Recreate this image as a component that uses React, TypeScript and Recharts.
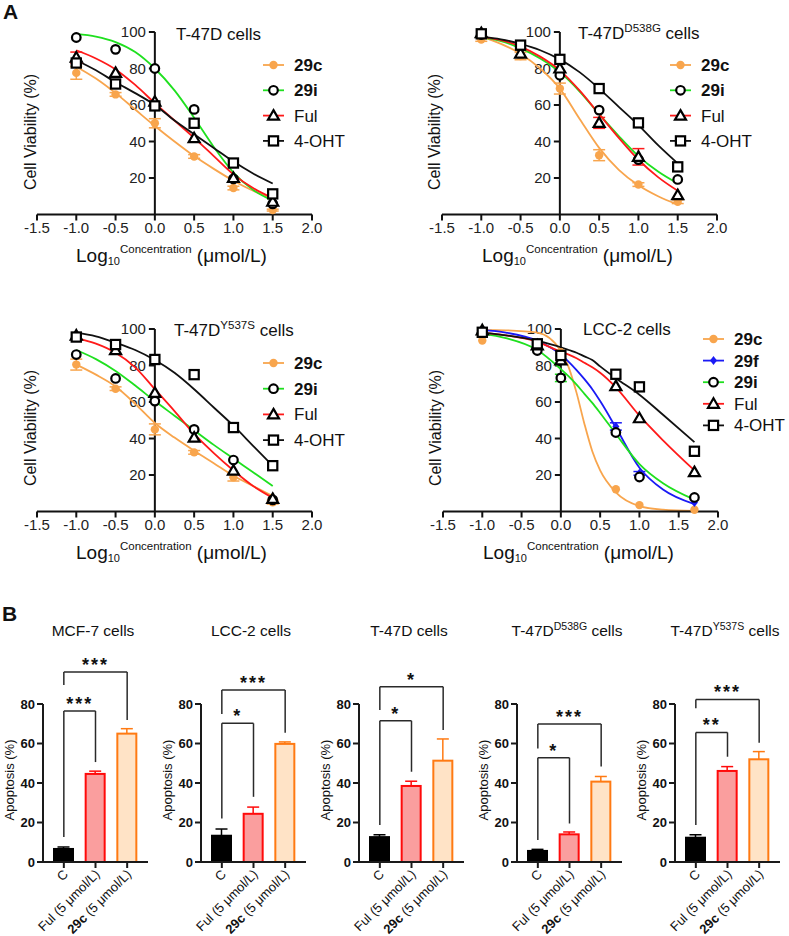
import React from "react"
import { Bar, ComposedChart, ErrorBar, Line, ReferenceLine, Scatter, XAxis, YAxis } from "recharts"

const FONT = "Arial, 'Liberation Sans', Helvetica, sans-serif"

// ---------- A: dose-response ----------
const doseX = [-1, -0.5, 0, 0.5, 1, 1.5]
const lccX = [-1, -0.3, 0, 0.7, 1, 1.7]
const fitX = [-1, -0.75, -0.5, -0.25, 0, 0.25, 0.5, 0.75, 1, 1.25, 1.5]
const lccFitX = [-1, -0.7, -0.3, 0, 0.1, 0.2, 0.3, 0.4, 0.5, 0.7, 1, 1.3, 1.7]
const doseXTicks = [-1.5, -1, -0.5, 0, 0.5, 1, 1.5, 2]
const viabilityTicks = [20, 40, 60, 80, 100]

// T-47D
const t47d29c = [77.6, 65.8, 50, 31.8, 14.5, 2.4]
const t47d29cErr = [3.5, 1, 2.5, 1, 1, 0.5]
const t47d29i = [97, 90.5, 80, 57.6, 19.5, 5.8]
const t47dFul = [86, 77.6, 61.8, 41.8, 20, 7]
const t47dFulErr = [3, 0, 0, 0, 0, 0]
const t47dOht = [83, 71.5, 59.5, 50, 28.2, 11.3]
const t47dFit29c = [81, 74.5, 66.5, 57.5, 48.5, 40, 32, 25, 18.5, 13, 8.5]
const t47dFit29i = [99, 97.5, 94.5, 89, 80, 68, 53, 37, 23, 13.5, 7.5]
const t47dFitFul = [90, 85.5, 79.5, 71, 61, 51.5, 42, 32, 22, 14.5, 9]
const t47dFitOht = [84.5, 79, 72.5, 66.5, 60, 51.5, 44, 36.5, 29, 22.5, 17]

// T-47D D538G
const d538g29c = [95.9, 86.8, 69, 32.5, 16.4, 7]
const d538g29cErr = [1, 2, 3, 3, 1, 1]
const d538g29i = [98.6, 91.9, 76.3, 57.2, 30.1, 19.2]
const d538gFul = [99.4, 88.2, 80, 50.2, 31.6, 10.6]
const d538gFulErr = [0, 0, 0, 3, 4.5, 0]
const d538gOht = [99, 92.8, 85, 69, 50.2, 26.1]
const d538gFit29c = [97.5, 93.5, 88, 80, 69, 52.5, 36.5, 24.5, 16, 10, 5.5]
const d538gFit29i = [97, 95, 91, 85.5, 78, 67.5, 55, 43, 32, 23.5, 17]
const d538gFitFul = [97.5, 95.5, 92, 86.5, 79, 68, 55, 42, 30, 20.5, 13]
const d538gFitOht = [97.5, 96, 93.5, 90, 85, 78, 69, 59, 49, 38, 28]

// T-47D Y537S
const y537s29c = [80.5, 67.3, 45, 32.4, 18.7, 5.1]
const y537s29cErr = [3, 1, 3, 1, 2, 1]
const y537s29i = [86, 72.9, 60.5, 45, 28.2, 6.4]
const y537sFul = [96.4, 88.4, 65, 40.5, 22.4, 6.9]
const y537sOht = [95.6, 91.5, 83.3, 75, 46, 25.1]
const y537sFit29c = [80.5, 75, 68.5, 59, 48.5, 40.5, 33.3, 26.5, 19.6, 14, 8.5]
const y537sFit29i = [88.5, 83.5, 77, 69, 60.5, 52.5, 44.5, 36.5, 29, 21.5, 14]
const y537sFitFul = [95, 92, 87, 79, 67, 55, 42.5, 32, 22.5, 14, 7.5]
const y537sFitOht = [98, 96, 92.5, 88.5, 83, 76, 67, 57, 47, 36, 25]

// LCC-2
const lcc29c = [93.7, 91.9, 87.3, 12.2, 3.5, 1]
const lcc29f = [99.3, 89, 84.6, 46.6, 20.9, 5]
const lcc29fErr = [0, 0, 0, 2, 1, 0]
const lcc29i = [98.2, 88.2, 73.2, 43.3, 18.9, 7.7]
const lcc29iErr = [0, 0, 2, 0, 0, 0]
const lccFul = [99.3, 91, 82.8, 68.7, 51.1, 21.6]
const lccOht = [98.2, 91.9, 85.5, 75.2, 68.3, 33]
const lccFit29c = [99.5, 99.3, 98, 88, 79, 65, 48, 33, 22.5, 10.5, 3, 1, 0.3]
const lccFit29f = [99.5, 98, 93.5, 86, 82, 77.5, 72.5, 67, 60.5, 46, 24, 12, 4]
const lccFit29i = [97.5, 95, 88.5, 78, 74, 69.5, 64.5, 59.5, 54, 42.5, 26, 15.5, 6.5]
const lccFitFul = [98, 96.5, 93, 87.5, 86, 84, 81.5, 79, 76, 68, 52.5, 39, 22.5]
const lccFitOht = [98, 96.5, 93.5, 90, 88.5, 87, 85, 83, 79.5, 73, 64, 53, 38]

const seriesColor: Record<string, string> = {
  "29c": "#F8A54D",
  "29f": "#1A1AF5",
  "29i": "#1FE01F",
  Ful: "#FF1A1A",
  "4-OHT": "#111111",
}

function Glyph({ name, cx, cy }: { name: string; cx: number; cy: number }) {
  if (name === "29c") return <circle cx={cx} cy={cy} r={4.2} fill={seriesColor["29c"]} />
  if (name === "29f")
    return <path d={`M${cx},${cy - 4.5} L${cx + 3.5},${cy} L${cx},${cy + 4.5} L${cx - 3.5},${cy} Z`} fill={seriesColor["29f"]} />
  if (name === "29i") return <circle cx={cx} cy={cy} r={4.3} fill="#fff" stroke="#000" strokeWidth={2.2} />
  if (name === "Ful")
    return (
      <path
        d={`M${cx},${cy - 5.5} L${cx + 5.5},${cy + 4} L${cx - 5.5},${cy + 4} Z`}
        fill="#fff"
        stroke="#000"
        strokeWidth={2.2}
      />
    )
  return <rect x={cx - 4.6} y={cy - 4.6} width={9.2} height={9.2} fill="#fff" stroke="#000" strokeWidth={2.2} />
}

function YTickLabel(props: any) {
  const vb = props.viewBox || {}
  return (
    <text x={vb.x - 3} y={vb.y + 5} textAnchor="end" fontSize={15} fontFamily={FONT} fill="#222">
      {props.value}
    </text>
  )
}

type DoseSeries = { name: string; y: number[]; fit: number[]; err?: number[] }

function DosePanel({ left, top, width, xs, fitXs, series }: { left: number; top: number; width: number; xs: number[]; fitXs: number[]; series: DoseSeries[] }) {
  const plotW = 275
  const margin = { top: 32, right: width - 37 - plotW, bottom: 35.5, left: 37 }
  // tick mark length on the centred y axis, in x units (6px)
  const tickLen = (6 * 3.5) / plotW
  return (
    <div style={{ position: "absolute", left, top }}>
      <ComposedChart width={width} height={280} margin={margin}>
        <XAxis
          type="number"
          dataKey="x"
          domain={[-1.5, 2]}
          ticks={doseXTicks}
          tickFormatter={(v: number) => v.toFixed(1)}
          stroke="#111"
          strokeWidth={2}
          tickSize={6}
          height={30}
          interval={0}
          tick={{ fontSize: 15, fill: "#222", fontFamily: FONT }}
        />
        <YAxis type="number" domain={[0, 100]} ticks={viabilityTicks} hide />
        <ReferenceLine x={0} stroke="#111" strokeWidth={2} />
        {viabilityTicks.map((v) => (
          <ReferenceLine
            key={"yt" + v}
            segment={[{ x: -tickLen, y: v }, { x: 0, y: v }]}
            stroke="#111"
            strokeWidth={2}
            label={(lp: any) => <YTickLabel viewBox={lp.viewBox} value={v} />}
          />
        ))}
        {series.map((s) => (
          <Line
            key={"fit-" + s.name}
            data={fitXs.map((x, i) => ({ x, y: s.fit[i] }))}
            dataKey="y"
            type="monotone"
            dot={false}
            stroke={seriesColor[s.name]}
            strokeWidth={1.8}
            isAnimationActive={false}
          />
        ))}
        {series.map((s) => (
          <Scatter
            key={"pts-" + s.name}
            data={xs.map((x, i) => ({ x, y: s.y[i], e: s.err ? s.err[i] : 0 }))}
            dataKey="y"
            shape={(p: any) => <Glyph name={s.name} cx={p.cx} cy={p.cy} />}
            isAnimationActive={false}
          >
            {s.err && <ErrorBar dataKey="e" direction="y" width={6} stroke={seriesColor[s.name]} strokeWidth={1.5} />}
          </Scatter>
        ))}
      </ComposedChart>
    </div>
  )
}

function DoseLegend({ x, y, gap, names }: { x: number; y: number; gap: number; names: string[] }) {
  return (
    <g>
      {names.map((n, i) => {
        const cy = y + i * gap
        const bold = n.startsWith("29")
        return (
          <g key={n}>
            <line x1={x} x2={x + 21} y1={cy} y2={cy} stroke={seriesColor[n]} strokeWidth={1.8} />
            <Glyph name={n} cx={x + 10.5} cy={cy} />
            <text x={x + 31} y={cy + 6} fontSize={17} fontWeight={bold ? "bold" : "normal"} fontFamily={FONT} fill="#111">
              {n}
            </text>
          </g>
        )
      })}
    </g>
  )
}

function LogLabel({ x, y }: { x: number; y: number }) {
  return (
    <text x={x} y={y} fontSize={19} fontFamily={FONT} fill="#111">
      Log
      <tspan fontSize={11} dy={3}>10</tspan>
      <tspan fontSize={11.5} dy={-12}>Concentration</tspan>
      <tspan fontSize={19} dy={9}> (μmol/L)</tspan>
    </text>
  )
}

function VLabel({ x, y, text, size }: { x: number; y: number; text: string; size: number }) {
  return (
    <text x={x} y={y} transform={`rotate(-90 ${x} ${y})`} textAnchor="middle" dominantBaseline="central" fontSize={size} fontFamily={FONT} fill="#111">
      {text}
    </text>
  )
}

function CellTitle({ x, y, base, sup, size, anchor }: { x: number; y: number; base: string; sup?: string; size: number; anchor?: "start" | "middle" }) {
  return (
    <text x={x} y={y} fontSize={size} fontFamily={FONT} fill="#111" textAnchor={anchor || "start"}>
      {base}
      {sup && (
        <tspan fontSize={size * 0.68} dy={-size * 0.4}>
          {sup}
        </tspan>
      )}
      <tspan dy={sup ? size * 0.4 : 0}> cells</tspan>
    </text>
  )
}

// ---------- B: apoptosis ----------
const barCats = ["C", "Ful", "29c"]
const barLabels = ["C", "Ful (5 μmol/L)", "29c (5 μmol/L)"]
const apoTicks = [0, 20, 40, 60, 80]

const mcf7Apo = [6.6, 44.6, 65]
const mcf7Sd = [1, 1.4, 2.5]
const lcc2Apo = [13.3, 24.4, 59.8]
const lcc2Sd = [3.4, 3.4, 1]
const t47dApo = [12.6, 38.5, 51.3]
const t47dSd = [1.2, 2.4, 11]
const d538gApo = [5.6, 14, 40.7]
const d538gSd = [0.8, 1.2, 2.6]
const y537sApo = [12.3, 46.1, 52]
const y537sSd = [1.5, 2.2, 3.9]

// significance brackets: level of the bar, lower ends of both legs
const mcf7Sig = [
  { to: "Ful", top: 76.5, fromEnd: 12.7, toEnd: 50.6, mark: "***" },
  { to: "29c", top: 96.2, fromEnd: 89.6, toEnd: 71.9, mark: "***" },
]
const lcc2Sig = [
  { to: "Ful", top: 70.2, fromEnd: 22, toEnd: 33, mark: "*" },
  { to: "29c", top: 87.1, fromEnd: 74.9, toEnd: 65.5, mark: "***" },
]
const t47dSig = [
  { to: "Ful", top: 71.5, fromEnd: 18.7, toEnd: 45.7, mark: "*" },
  { to: "29c", top: 88.7, fromEnd: 77, toEnd: 66.8, mark: "*" },
]
const d538gSig = [
  { to: "Ful", top: 52.8, fromEnd: 11.1, toEnd: 19.5, mark: "*" },
  { to: "29c", top: 69.9, fromEnd: 57.5, toEnd: 48.3, mark: "***" },
]
const y537sSig = [
  { to: "Ful", top: 65.6, fromEnd: 18.7, toEnd: 53.3, mark: "**" },
  { to: "29c", top: 82.3, fromEnd: 77.8, toEnd: 60.4, mark: "***" },
]

const barLook = [
  { fill: "#000000", stroke: "#000000" },
  { fill: "#FA9E9E", stroke: "#FF0A0A" },
  { fill: "#FFE3C6", stroke: "#FF7A12" },
]

function ApoBar(props: any) {
  const { x, y, width, height, payload } = props
  const look = barLook[payload.idx]
  const perUnit = height / payload.v
  const yTop = y - payload.sd * perUnit
  const cx = x + width / 2
  return (
    <g>
      <line x1={cx} x2={cx} y1={y} y2={yTop} stroke={look.stroke} strokeWidth={1.5} />
      <line x1={cx - 6} x2={cx + 6} y1={yTop} y2={yTop} stroke={look.stroke} strokeWidth={1.5} />
      <rect x={x} y={y} width={width} height={height} fill={look.fill} stroke={look.stroke} strokeWidth={2} />
    </g>
  )
}

function BarXTick(props: any) {
  const { x, y, payload } = props
  const i = barCats.indexOf(payload.value)
  return (
    <g transform={`translate(${x + 5},${y + 5})`}>
      <text transform="rotate(-45)" textAnchor="end" fontSize={13} fontFamily={FONT} fill="#111">
        {i === 2 ? (
          <>
            <tspan fontWeight="bold">29c</tspan>
            <tspan> (5 μmol/L)</tspan>
          </>
        ) : (
          barLabels[i]
        )}
      </text>
    </g>
  )
}

function StarMark(props: any) {
  const vb = props.viewBox || {}
  return (
    <text
      x={vb.x + vb.width / 2}
      y={vb.y - 1}
      textAnchor="middle"
      fontSize={18}
      fontWeight="bold"
      letterSpacing={2}
      fontFamily={FONT}
      fill="#111"
    >
      {props.mark}
    </text>
  )
}

type Sig = { to: string; top: number; fromEnd: number; toEnd: number; mark: string }

function ApoPanel({ left, means, sds, sig }: { left: number; means: number[]; sds: number[]; sig: Sig[] }) {
  const data = barCats.map((cat, i) => ({ cat, v: means[i], sd: sds[i], idx: i }))
  return (
    <div style={{ position: "absolute", left, top: 560 }}>
      <ComposedChart width={158} height={376} data={data} margin={{ top: 144, right: 10, bottom: 4, left: 8 }}>
        <XAxis
          dataKey="cat"
          height={70}
          interval={0}
          padding={{ left: 5, right: 5 }}
          stroke="#1a1a1a"
          strokeWidth={2}
          tickSize={6}
          tick={<BarXTick />}
        />
        <YAxis
          type="number"
          domain={[0, 80]}
          ticks={apoTicks}
          width={35}
          stroke="#1a1a1a"
          strokeWidth={2}
          tickSize={6}
          tick={{ fontSize: 13, fontWeight: "bold", fill: "#111", fontFamily: FONT }}
        />
        <Bar dataKey="v" barSize={19} shape={(p: any) => <ApoBar {...p} />} isAnimationActive={false} />
        {sig.map((s) => (
          <ReferenceLine
            key={"l" + s.to}
            segment={[{ x: "C", y: s.fromEnd }, { x: "C", y: s.top }]}
            ifOverflow="visible"
            stroke="#2a2a2a"
            strokeWidth={1.5}
          />
        ))}
        {sig.map((s) => (
          <ReferenceLine
            key={"t" + s.to}
            segment={[{ x: "C", y: s.top }, { x: s.to, y: s.top }]}
            ifOverflow="visible"
            stroke="#2a2a2a"
            strokeWidth={1.5}
            label={(lp: any) => <StarMark viewBox={lp.viewBox} mark={s.mark} />}
          />
        ))}
        {sig.map((s) => (
          <ReferenceLine
            key={"r" + s.to}
            segment={[{ x: s.to, y: s.top }, { x: s.to, y: s.toEnd }]}
            ifOverflow="visible"
            stroke="#2a2a2a"
            strokeWidth={1.5}
          />
        ))}
      </ComposedChart>
    </div>
  )
}

export default function App() {
  const apoPanels = [
    { means: mcf7Apo, sds: mcf7Sd, sig: mcf7Sig, title: "MCF-7", sup: "" },
    { means: lcc2Apo, sds: lcc2Sd, sig: lcc2Sig, title: "LCC-2", sup: "" },
    { means: t47dApo, sds: t47dSd, sig: t47dSig, title: "T-47D", sup: "" },
    { means: d538gApo, sds: d538gSd, sig: d538gSig, title: "T-47D", sup: "D538G" },
    { means: y537sApo, sds: y537sSd, sig: y537sSig, title: "T-47D", sup: "Y537S" },
  ]
  return (
    <div style={{ position: "absolute", left: 0, top: 0, width: 789, height: 936, background: "#fff", fontFamily: FONT }}>
      <DosePanel
        left={0}
        top={0}
        width={395}
        xs={doseX}
        fitXs={fitX}
        series={[
          { name: "29c", y: t47d29c, err: t47d29cErr, fit: t47dFit29c },
          { name: "29i", y: t47d29i, fit: t47dFit29i },
          { name: "Ful", y: t47dFul, err: t47dFulErr, fit: t47dFitFul },
          { name: "4-OHT", y: t47dOht, fit: t47dFitOht },
        ]}
      />
      <DosePanel
        left={405}
        top={0}
        width={384}
        xs={doseX}
        fitXs={fitX}
        series={[
          { name: "29c", y: d538g29c, err: d538g29cErr, fit: d538gFit29c },
          { name: "29i", y: d538g29i, fit: d538gFit29i },
          { name: "Ful", y: d538gFul, err: d538gFulErr, fit: d538gFitFul },
          { name: "4-OHT", y: d538gOht, fit: d538gFitOht },
        ]}
      />
      <DosePanel
        left={0}
        top={297}
        width={395}
        xs={doseX}
        fitXs={fitX}
        series={[
          { name: "29c", y: y537s29c, err: y537s29cErr, fit: y537sFit29c },
          { name: "29i", y: y537s29i, fit: y537sFit29i },
          { name: "Ful", y: y537sFul, fit: y537sFitFul },
          { name: "4-OHT", y: y537sOht, fit: y537sFitOht },
        ]}
      />
      <DosePanel
        left={406}
        top={297}
        width={383}
        xs={lccX}
        fitXs={lccFitX}
        series={[
          { name: "29c", y: lcc29c, fit: lccFit29c },
          { name: "29f", y: lcc29f, err: lcc29fErr, fit: lccFit29f },
          { name: "29i", y: lcc29i, err: lcc29iErr, fit: lccFit29i },
          { name: "Ful", y: lccFul, fit: lccFitFul },
          { name: "4-OHT", y: lccOht, fit: lccFitOht },
        ]}
      />
      {apoPanels.map((p, i) => (
        <ApoPanel key={i} left={158 * i} means={p.means} sds={p.sds} sig={p.sig} />
      ))}

      <svg width={789} height={936} style={{ position: "absolute", left: 0, top: 0, pointerEvents: "none" }}>
        <text x={3} y={19} fontSize={21} fontWeight="bold" fontFamily={FONT} fill="#111">A</text>
        <text x={2} y={621} fontSize={21} fontWeight="bold" fontFamily={FONT} fill="#111">B</text>

        <CellTitle x={176} y={40} base="T-47D" size={17} />
        <CellTitle x={578} y={39} base="T-47D" sup="D538G" size={17} />
        <CellTitle x={174} y={336} base="T-47D" sup="Y537S" size={17} />
        <CellTitle x={583} y={335} base="LCC-2" size={17} />

        <DoseLegend x={263} y={65} gap={25.3} names={["29c", "29i", "Ful", "4-OHT"]} />
        <DoseLegend x={670} y={65} gap={25.3} names={["29c", "29i", "Ful", "4-OHT"]} />
        <DoseLegend x={263} y={363} gap={25.7} names={["29c", "29i", "Ful", "4-OHT"]} />
        <DoseLegend x={703} y={339} gap={21.6} names={["29c", "29f", "29i", "Ful", "4-OHT"]} />

        <VLabel x={30} y={132} text="Cell Viability (%)" size={16} />
        <VLabel x={434} y={132} text="Cell Viability (%)" size={16} />
        <VLabel x={30} y={428} text="Cell Viability (%)" size={16} />
        <VLabel x={435} y={428} text="Cell Viability (%)" size={16} />

        <LogLabel x={76} y={262} />
        <LogLabel x={482} y={262} />
        <LogLabel x={76} y={559} />
        <LogLabel x={483} y={559} />

        {apoPanels.map((p, i) => (
          <g key={i}>
            <CellTitle x={158 * i + 93} y={636} base={p.title} sup={p.sup} size={15.5} anchor="middle" />
            <VLabel x={158 * i + 9} y={780} text="Apoptosis (%)" size={13} />
          </g>
        ))}
      </svg>
    </div>
  )
}
